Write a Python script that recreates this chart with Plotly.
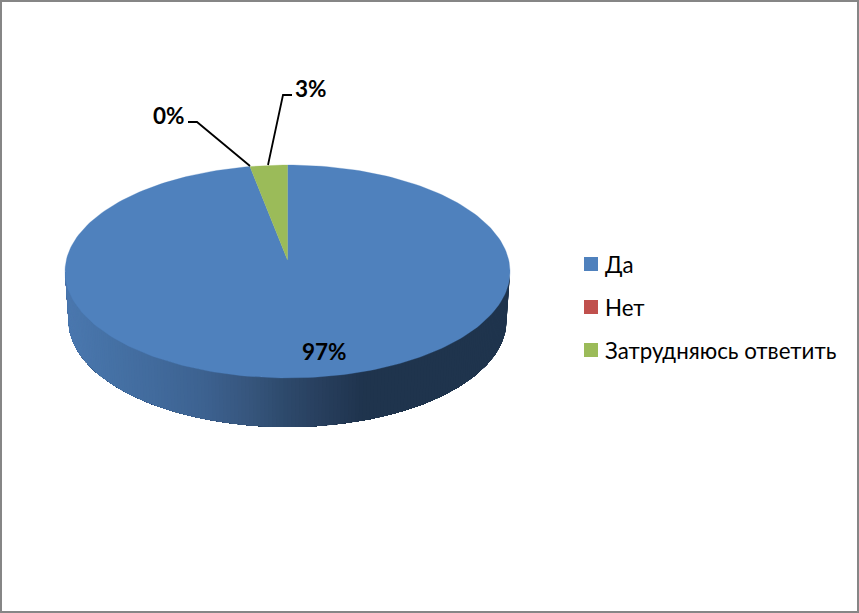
import numpy as np
import plotly.graph_objects as go

# share of answers (labels round them)
categories = ['Да', 'Нет', 'Затрудняюсь ответить']
values = [97.3, 0.0, 2.7]
colors = ['#4F81BD', '#C0504D', '#9BBB59']

# side wall shading, left to right
rim_stops = [0.0, 0.1, 0.2, 0.32, 0.42, 0.5, 0.58, 0.68, 1.0]
rim_colors = ['#4B78AF', '#4672A6', '#426B9D', '#3D6290', '#37567D', '#2E4A6C',
              '#283F5E', '#1F344D', '#1F344D']

CX, CY, RX, RY = 287.5, 271.5, 222.5, 106.5
APEX_Y = 260
DEPTH, RX_LOW = 49, 219

LABEL_FONT = dict(family='Lato, Carlito, sans-serif', size=22.5, color='black')
LEGEND_FONT = dict(family='Lato, Carlito, sans-serif', size=22.3, color='black')

def top_point(theta, rx=RX, dy=0):
    return CX + rx * np.sin(theta), CY - RY * np.cos(theta) + dy

def hex_rgb(c):
    return [int(c[i:i + 2], 16) for i in (1, 3, 5)]

def rim_color(t):
    rgb = [np.interp(t, rim_stops, [hex_rgb(c)[k] for c in rim_colors]) for k in range(3)]
    return 'rgb(%d,%d,%d)' % tuple(rgb)

fig = go.Figure()

# side wall: each band runs to the left end and is painted over by the next,
# going right to left, so no seams show between the shades
edges = np.radians(np.linspace(90, 270, 181))
for a in edges[:-1]:
    arc = edges[edges >= a]
    x_top, y_top = top_point(arc)
    x_low, y_low = top_point(arc[::-1], RX_LOW, DEPTH)
    col = rim_color((np.sin(a) + 1) / 2)
    fig.add_trace(go.Scatter(
        x=[*x_top, *x_low], y=[*y_top, *y_low], mode='lines', fill='toself',
        fillcolor=col, line=dict(width=0), hoverinfo='skip', showlegend=False))

# top face, clockwise from 12 o'clock
start = 0.0
total = sum(values)
for name, val, col in zip(categories, values, colors):
    stop = start + val / total * 2 * np.pi
    if val > 0:
        px, py = top_point(np.linspace(start, stop, 240))
        fig.add_trace(go.Scatter(
            x=[CX, *px, CX], y=[APEX_Y, *py, APEX_Y], mode='lines', fill='toself',
            fillcolor=col, line=dict(color=col, width=0.3), name=name, showlegend=False))
    start = stop

# leader lines for the two small slices
for lx, ly in [([250, 197, 188], [166, 122, 122]), ([268, 283, 292], [165, 95, 95])]:
    fig.add_trace(go.Scatter(x=lx, y=ly, mode='lines', line=dict(color='black', width=1.8),
                             hoverinfo='skip', showlegend=False))

# legend keys
legend_y = [264, 307, 350]
fig.add_trace(go.Scatter(
    x=[591] * 3, y=legend_y, mode='markers', hoverinfo='skip', showlegend=False,
    marker=dict(symbol='square', size=14, color=colors)))

annotations = []
for name, ly in zip(categories, legend_y):
    annotations.append(dict(x=603, y=ly, text=name, xanchor='left', yanchor='middle',
                            showarrow=False, font=LEGEND_FONT, xref='x', yref='y'))
for val, (lx, ly) in zip(values, [(324, 351), (169, 115), (311, 88)]):
    annotations.append(dict(x=lx, y=ly, text=f'<b>{val:.0f}%</b>', xanchor='center', yanchor='middle',
                            showarrow=False, font=LABEL_FONT, xref='x', yref='y'))

fig.update_layout(
    width=859, height=613,
    margin=dict(l=0, r=0, t=0, b=0),
    paper_bgcolor='white', plot_bgcolor='white',
    xaxis=dict(range=[0, 859], visible=False, fixedrange=True),
    yaxis=dict(range=[613, 0], visible=False, fixedrange=True),
    annotations=annotations,
    shapes=[dict(type='rect', xref='x', yref='y', x0=1, y0=1, x1=858, y1=612,
                 line=dict(color='#868686', width=2))],
    showlegend=False,
)

fig.write_html("out.html", config={'displayModeBar': False},
               post_script="document.body.style.margin='0';document.documentElement.style.overflow='hidden';")
